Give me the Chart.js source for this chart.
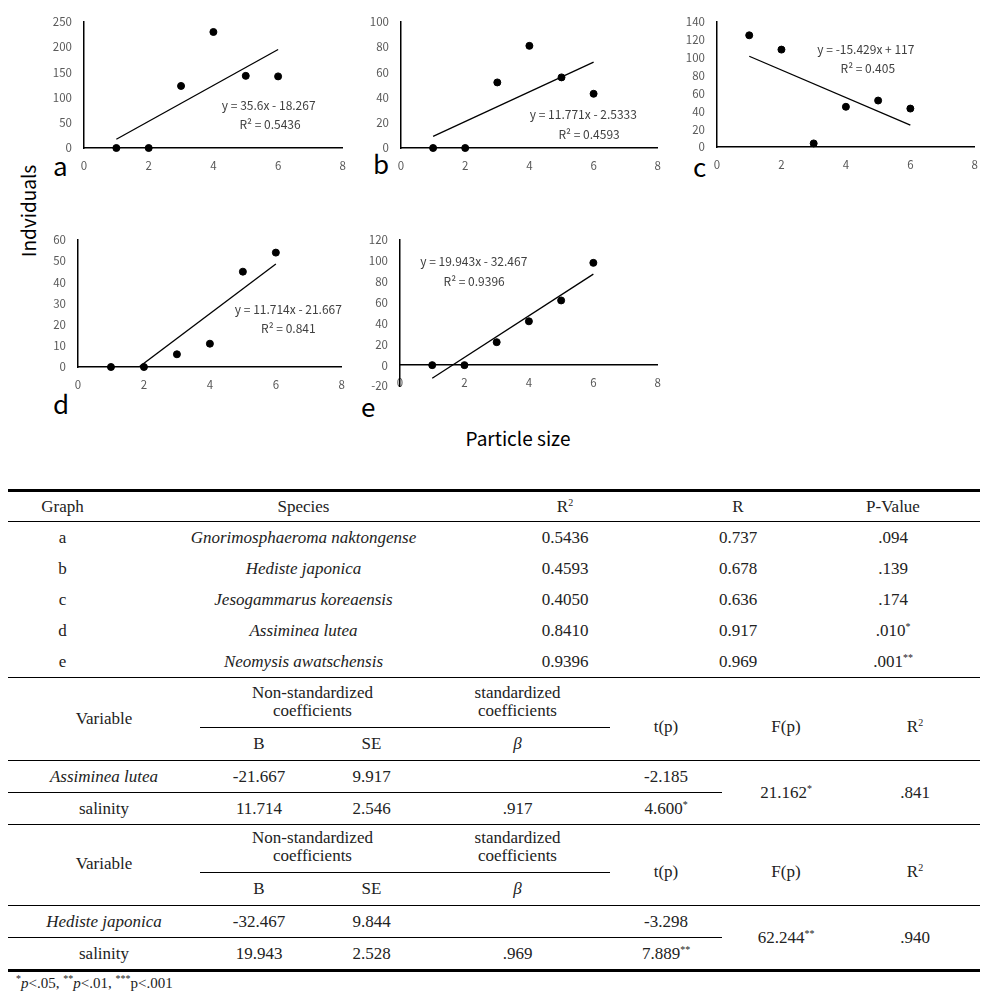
<!DOCTYPE html>
<html>
<head>
<meta charset="utf-8">
<script src="https://cdn.jsdelivr.net/npm/chart.js@4"></script>
<style>
body { margin: 0; width: 988px; height: 1000px; position: relative; background: #fff; overflow: hidden;
       font-family: "Noto Sans CJK KR", "Noto Sans", sans-serif; }
.panel { position: absolute; }
.letter { position: absolute; font-size: 26px; line-height: 1; color: #000; }
.axis-title { position: absolute; font-size: 19px; line-height: 1; color: #000; white-space: nowrap; }
table { position: absolute; left: 8px; width: 972px; border-collapse: collapse; table-layout: fixed;
        font-family: "Liberation Serif", serif; font-size: 17px; color: #222; }
td { text-align: center; padding: 0; height: 31px; vertical-align: middle; }
td i { font-style: italic; }
sup { font-size: 10px; vertical-align: 6px; line-height: 0; }
.t1 { top: 489px; border-top: 3px solid #000; }
.t1 tr.head td { height: 29px; border-bottom: 1px solid #000; }
.t1 tr.last td { border-bottom: 1.5px solid #000; }
.t1 td.pv { padding-right: 30px; }
.t2 { top: 677px; }
.t3 { top: 822px; }
.t2 td.grp, .t3 td.grp { height: 50px; border-bottom: 1px solid #000; line-height: 1.05; }
.t2 tr.sub td, .t3 tr.sub td { height: 32px; border-bottom: 1px solid #000; }
.t2 td.low, .t3 td.low { padding-top: 16px; border-bottom: 1px solid #000; }
tr.r1 td.cut { border-bottom: 1px solid #000; }
.t2 tr.r2 td, .t2 td.span { border-bottom: 1.5px solid #000; }
.t3 tr.r2 td, .t3 td.span { border-bottom: 3px solid #000; }
.note { position: absolute; left: 16px; top: 975px; font-family: "Liberation Serif", serif; font-size: 15px; color: #222; }
</style>
</head>
<body>

<div class="letter" style="left:53px; top:152px;">a</div>
<div class="letter" style="left:373px; top:150px;">b</div>
<div class="letter" style="left:693px; top:153px;">c</div>
<div class="letter" style="left:53px; top:390px;">d</div>
<div class="letter" style="left:361px; top:393px;">e</div>
<div class="axis-title" style="left:27px; top:211px; transform: translate(-50%,-50%) rotate(-90deg);">Indviduals</div>
<div class="axis-title" style="left:518px; top:437px; transform: translate(-50%,-50%);">Particle size</div>

<table class="t1">
  <colgroup><col style="width:109px"><col style="width:373px"><col style="width:150px"><col style="width:196px"><col style="width:144px"></colgroup>
  <tr class="head"><td>Graph</td><td>Species</td><td>R<sup>2</sup></td><td>R</td><td class="pv">P-Value</td></tr>
  <tr><td>a</td><td><i>Gnorimosphaeroma naktongense</i></td><td>0.5436</td><td>0.737</td><td class="pv">.094</td></tr>
  <tr><td>b</td><td><i>Hediste japonica</i></td><td>0.4593</td><td>0.678</td><td class="pv">.139</td></tr>
  <tr><td>c</td><td><i>Jesogammarus koreaensis</i></td><td>0.4050</td><td>0.636</td><td class="pv">.174</td></tr>
  <tr><td>d</td><td><i>Assiminea lutea</i></td><td>0.8410</td><td>0.917</td><td class="pv">.010<sup>*</sup></td></tr>
  <tr class="last"><td>e</td><td><i>Neomysis awatschensis</i></td><td>0.9396</td><td>0.969</td><td class="pv">.001<sup>**</sup></td></tr>
</table>

<table class="t2">
  <colgroup><col style="width:192px"><col style="width:118px"><col style="width:107px"><col style="width:185px"><col style="width:112px"><col style="width:128px"><col style="width:130px"></colgroup>
  <tr><td rowspan="2" class="low" style="padding-top:0">Variable</td><td colspan="2" class="grp">Non-standardized<br>coefficients</td><td class="grp">standardized<br>coefficients</td><td rowspan="2" class="low">t(p)</td><td rowspan="2" class="low">F(p)</td><td rowspan="2" class="low">R<sup>2</sup></td></tr>
  <tr class="sub"><td>B</td><td>SE</td><td><i>β</i></td></tr>
  <tr class="r1"><td class="cut"><i>Assiminea lutea</i></td><td class="cut">-21.667</td><td class="cut">9.917</td><td class="cut"></td><td class="cut">-2.185</td><td rowspan="2" class="span">21.162<sup>*</sup></td><td rowspan="2" class="span">.841</td></tr>
  <tr class="r2"><td>salinity</td><td>11.714</td><td>2.546</td><td>.917</td><td>4.600<sup>*</sup></td></tr>
</table>

<table class="t3">
  <colgroup><col style="width:192px"><col style="width:118px"><col style="width:107px"><col style="width:185px"><col style="width:112px"><col style="width:128px"><col style="width:130px"></colgroup>
  <tr><td rowspan="2" class="low" style="padding-top:0">Variable</td><td colspan="2" class="grp">Non-standardized<br>coefficients</td><td class="grp">standardized<br>coefficients</td><td rowspan="2" class="low">t(p)</td><td rowspan="2" class="low">F(p)</td><td rowspan="2" class="low">R<sup>2</sup></td></tr>
  <tr class="sub"><td>B</td><td>SE</td><td><i>β</i></td></tr>
  <tr class="r1"><td class="cut"><i>Hediste japonica</i></td><td class="cut">-32.467</td><td class="cut">9.844</td><td class="cut"></td><td class="cut">-3.298</td><td rowspan="2" class="span">62.244<sup>**</sup></td><td rowspan="2" class="span">.940</td></tr>
  <tr class="r2"><td>salinity</td><td>19.943</td><td>2.528</td><td>.969</td><td>7.889<sup>**</sup></td></tr>
</table>

<div class="note"><sup>*</sup><i>p</i>&lt;.05, <sup>**</sup><i>p</i>&lt;.01, <sup>***</sup>p&lt;.001</div>

<script>
// --- dane ---
const particleSizes = [1, 2, 3, 4, 5, 6];
const xTicks = [0, 2, 4, 6, 8];

const individualsA = [0, 0, 123, 230, 143, 142];
const individualsB = [0, 0, 52, 81, 56, 43];
const individualsC = [125, 109, 4, 45, 52, 43];
const individualsD = [0, 0, 6, 11, 45, 54];
const individualsE = [0, 0, 22, 42, 62, 98];

const yTicksA = [0, 50, 100, 150, 200, 250];
const yTicksB = [0, 20, 40, 60, 80, 100];
const yTicksC = [0, 20, 40, 60, 80, 100, 120, 140];
const yTicksD = [0, 10, 20, 30, 40, 50, 60];
const yTicksE = [-20, 0, 20, 40, 60, 80, 100, 120];

// linie trendu (z równań na wykresie)
const slopes = [35.6, 11.771, -15.429, 11.714, 19.943];
const intercepts = [-18.267, -2.5333, 117, -21.667, -32.467];
const rSquared = ['0.5436', '0.4593', '0.405', '0.841', '0.9396'];

// --- układ paneli (pozycje obszaru wykresu w px strony) ---
const panels = [
    { data: individualsA, yTicks: yTicksA, area: [84, 13, 343, 148],   eqAt: [5.71, 84],  r2At: [5.75, 46] },
    { data: individualsB, yTicks: yTicksB, area: [401, 13, 658, 148],  eqAt: [5.68, 26.4], r2At: [5.86, 10.4] },
    { data: individualsC, yTicks: yTicksC, area: [717, 13, 975, 147],  eqAt: [4.62, 109.7], r2At: [4.68, 87.8] },
    { data: individualsD, yTicks: yTicksD, area: [78, 231, 342, 367],  eqAt: [6.38, 27.4], r2At: [6.38, 18.3] },
    { data: individualsE, yTicks: yTicksE, area: [400, 231, 658, 386], eqAt: [2.29, 98.9], r2At: [2.30, 80.2] }
];

const tickFont = { family: '"Noto Sans CJK KR", "Noto Sans", sans-serif', size: 11.5 };

// podpis równania i R²
const trendLabels = {
    id: 'trendLabels',
    afterDatasetsDraw(chart, args, opts) {
        const { ctx, scales: { x, y } } = chart;
        ctx.save();
        ctx.font = '12px "Noto Sans CJK KR", "Noto Sans", sans-serif';
        ctx.fillStyle = '#404040';
        ctx.textAlign = 'center';
        ctx.textBaseline = 'middle';
        ctx.fillText(opts.eq, x.getPixelForValue(opts.eqAt[0]), y.getPixelForValue(opts.eqAt[1]));
        ctx.fillText(opts.r2, x.getPixelForValue(opts.r2At[0]), y.getPixelForValue(opts.r2At[1]));
        ctx.restore();
    }
};

function equationText(m, b) {
    return 'y = ' + m + 'x ' + (b < 0 ? '- ' + (-b) : '+ ' + b);
}

function makePanel(cfg, i) {
    const [left, top, right, bottom] = cfg.area;
    const padL = 50, padT = 10, padR = 14, padB = 30;
    const w = right - left + padL + padR;
    const h = bottom - top + padT + padB;

    const box = document.createElement('div');
    box.className = 'panel';
    box.style.left = (left - padL) + 'px';
    box.style.top = (top - padT) + 'px';
    const canvas = document.createElement('canvas');
    canvas.width = w;
    canvas.height = h;
    canvas.style.width = w + 'px';
    canvas.style.height = h + 'px';
    box.appendChild(canvas);
    document.body.appendChild(box);

    const xFirst = particleSizes[0];
    const xLast = particleSizes[particleSizes.length - 1];
    const m = slopes[i], b = intercepts[i];

    new Chart(canvas, {
        type: 'scatter',
        data: {
            datasets: [
                {
                    data: particleSizes.map((x, k) => ({ x: x, y: cfg.data[k] })),
                    backgroundColor: '#000',
                    borderColor: '#000',
                    pointRadius: 3.5,
                    pointHoverRadius: 3.5,
                    clip: false
                },
                {
                    type: 'line',
                    data: [{ x: xFirst, y: m * xFirst + b }, { x: xLast, y: m * xLast + b }],
                    borderColor: '#000',
                    borderWidth: 1.3,
                    pointRadius: 0,
                    fill: false
                }
            ]
        },
        options: {
            responsive: false,
            animation: false,
            layout: { padding: { top: padT, right: padR, bottom: padB, left: 0 } },
            plugins: {
                legend: { display: false },
                tooltip: { enabled: false },
                trendLabels: { eq: equationText(m, b), r2: 'R² = ' + rSquared[i], eqAt: cfg.eqAt, r2At: cfg.r2At }
            },
            scales: {
                x: {
                    type: 'linear',
                    position: { y: 0 },
                    min: xTicks[0],
                    max: xTicks[xTicks.length - 1],
                    grid: { display: false, drawTicks: false },
                    border: { display: true, color: '#000', width: 1.5 },
                    ticks: { stepSize: xTicks[1] - xTicks[0], color: '#595959', font: tickFont, padding: 11, maxRotation: 0 }
                },
                y: {
                    type: 'linear',
                    position: 'left',
                    min: cfg.yTicks[0],
                    max: cfg.yTicks[cfg.yTicks.length - 1],
                    afterFit: scale => { scale.width = padL; },
                    grid: { display: false, drawTicks: false },
                    border: { display: true, color: '#000', width: 1.5 },
                    ticks: { stepSize: cfg.yTicks[1] - cfg.yTicks[0], color: '#595959', font: tickFont, padding: 12 }
                }
            }
        },
        plugins: [trendLabels]
    });
}

panels.forEach(makePanel);
</script>
</body>
</html>
